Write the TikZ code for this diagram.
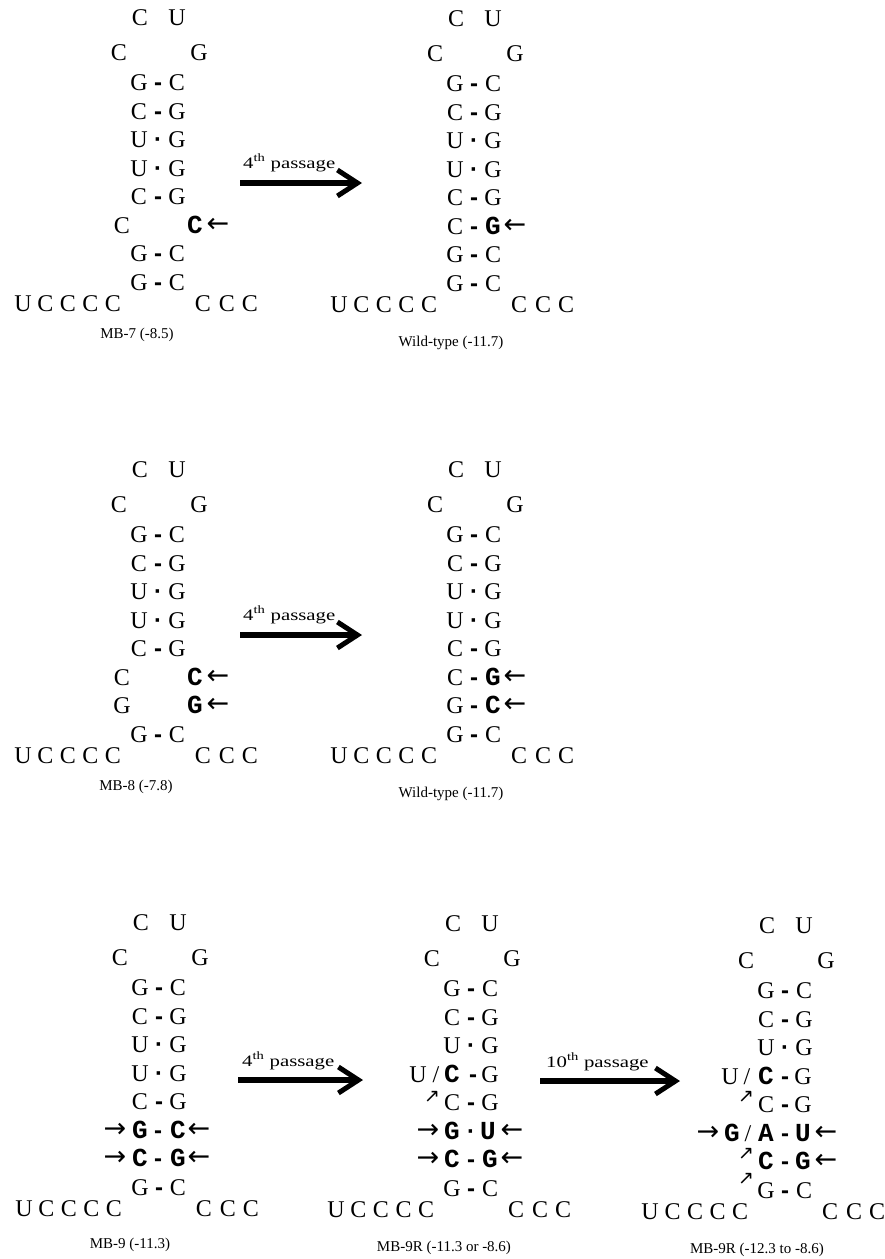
\documentclass[tikz,border=0pt]{standalone}
\usepackage{fontspec}
\setmainfont{Liberation Serif}
\newfontfamily\monofam{Liberation Mono}
\newfontfamily\bondfam{Liberation Sans}
\newfontfamily\symfam{DejaVu Sans}
\newfontfamily\passfam[FakeStretch=1.3]{Liberation Serif}
\usetikzlibrary{arrows.meta}

\newcommand{\bnuc}[1]{{\fontsize{26}{28}\selectfont\monofam\bfseries #1}}
\newcommand{\pbond}{{\bondfam\bfseries -}}
\newcommand{\pwob}{{\bondfam\bfseries ·}}
\newcommand{\slsh}{/}
% one row of bases: name, baseline, list of x/text
\newcommand{\ntrow}[3]{\foreach \px/\ptxt [count=\n] in {#3} \node[nt] (#1-\n) at (\px,#2) {\ptxt};}
% loop, first stem pairs and the two tails
\newcommand{\stemloop}[1]{%
  \node[nt] (#1-l1) at (1,8) {C};
  \node[nt] (#1-l2) at (38,8) {U};
  \node[nt] (#1-l3) at (-20,43) {C};
  \node[nt] (#1-l4) at (60,43) {G};
  \ntrow{#1-r1}{73.5}{0/G,19/\pbond,38/C}
  \ntrow{#1-r2}{102}{0/C,19/\pbond,38/G}
  \ntrow{#1-r3}{130.5}{0/U,19/\pwob,38/G}
  \ntrow{#1-r8}{273}{0/G,19/\pbond,38/C}
  \ntrow{#1-t5}{294}{-116/U,-93.5/C,-71/C,-48.5/C,-26/C}
  \ntrow{#1-t3}{294}{64/C,88/C,111/C}
}

\begin{document}
\begin{tikzpicture}[x=1pt, y=-1pt,
  nt/.style={anchor=base, inner sep=0pt, font=\fontsize{24}{28}\selectfont},
  sarr/.style={anchor=center, inner sep=0pt, font=\fontsize{27}{30}\selectfont\symfam},
  darr/.style={anchor=center, inner sep=0pt, font=\fontsize{19}{22}\selectfont\symfam},
  lbl/.style={anchor=center, inner sep=0pt, font=\fontsize{15}{18}\selectfont},
  plbl/.style={anchor=base west, inner sep=0pt, font=\fontsize{16}{19}\selectfont\passfam},
  passarr/.style={line width=5.5pt, -{Straight Barb[length=20pt,width=26pt,line width=5pt]}}]
  \useasboundingbox (0,0) rectangle (884,1259);

  % MB-7
  \begin{scope}[shift={(139,17)}]
    \stemloop{mb7}
    \ntrow{mb7-r4}{159}{0/U,19/\pwob,38/G}
    \ntrow{mb7-r5}{187.5}{0/C,19/\pbond,38/G}
    \ntrow{mb7-r6}{216}{-17/C,56/\bnuc{C}}
    \node[sarr] (mb7-a6) at (79,208) {←};
    \ntrow{mb7-r7}{244.5}{0/G,19/\pbond,38/C}
    \node[lbl] (mb7-name) at (-2,318) {MB-7 (-8.5)};
  \end{scope}

  % wild type, first row
  \begin{scope}[shift={(455,18)}]
    \stemloop{wta}
    \ntrow{wta-r4}{159}{0/U,19/\pwob,38/G}
    \ntrow{wta-r5}{187.5}{0/C,19/\pbond,38/G}
    \ntrow{wta-r6}{216}{0/C,19/\pbond,38/\bnuc{G}}
    \node[sarr] (wta-a6) at (60,208) {←};
    \ntrow{wta-r7}{244.5}{0/G,19/\pbond,38/C}
    \node[lbl] (wta-name) at (-4,325) {Wild-type (-11.7)};
  \end{scope}

  % MB-8
  \begin{scope}[shift={(139,469)}]
    \stemloop{mb8}
    \ntrow{mb8-r4}{159}{0/U,19/\pwob,38/G}
    \ntrow{mb8-r5}{187.5}{0/C,19/\pbond,38/G}
    \ntrow{mb8-r6}{216}{-17/C,56/\bnuc{C}}
    \node[sarr] (mb8-a6) at (79,208) {←};
    \ntrow{mb8-r7}{244.5}{-17/G,56/\bnuc{G}}
    \node[sarr] (mb8-a7) at (79,236.5) {←};
    \node[lbl] (mb8-name) at (-3,318) {MB-8 (-7.8)};
  \end{scope}

  % wild type, second row
  \begin{scope}[shift={(455,469)}]
    \stemloop{wtb}
    \ntrow{wtb-r4}{159}{0/U,19/\pwob,38/G}
    \ntrow{wtb-r5}{187.5}{0/C,19/\pbond,38/G}
    \ntrow{wtb-r6}{216}{0/C,19/\pbond,38/\bnuc{G}}
    \node[sarr] (wtb-a6) at (60,208) {←};
    \ntrow{wtb-r7}{244.5}{0/G,19/\pbond,38/\bnuc{C}}
    \node[sarr] (wtb-a7) at (60,236.5) {←};
    \node[lbl] (wtb-name) at (-4,325) {Wild-type (-11.7)};
  \end{scope}

  % MB-9
  \begin{scope}[shift={(140,922)}]
    \stemloop{mb9}
    \ntrow{mb9-r4}{159}{0/U,19/\pwob,38/G}
    \ntrow{mb9-r5}{187.5}{0/C,19/\pbond,38/G}
    \ntrow{mb9-r6}{216}{0/\bnuc{G},18/\pbond,38/\bnuc{C}}
    \node[sarr] (mb9-b6) at (-25,208) {→};
    \node[sarr] (mb9-a6) at (59,208) {←};
    \ntrow{mb9-r7}{244.5}{0/\bnuc{C},18/\pbond,38/\bnuc{G}}
    \node[sarr] (mb9-b7) at (-25,236.5) {→};
    \node[sarr] (mb9-a7) at (59,236.5) {←};
    \node[lbl] (mb9-name) at (-10,323) {MB-9 (-11.3)};
  \end{scope}

  % MB-9R after 4th passage
  \begin{scope}[shift={(452,923)}]
    \stemloop{mbr}
    \ntrow{mbr-r4}{159}{-34/U,-16/\slsh,0/\bnuc{C},21/\pbond,38/G}
    \node[darr] (mbr-d4) at (-20,174) {↗};
    \ntrow{mbr-r5}{187.5}{0/C,19/\pbond,38/G}
    \ntrow{mbr-r6}{216}{0/\bnuc{G},19/\pwob,36/\bnuc{U}}
    \node[sarr] (mbr-b6) at (-24,208) {→};
    \node[sarr] (mbr-a6) at (60,208) {←};
    \ntrow{mbr-r7}{244.5}{0/\bnuc{C},19/\pbond,38/\bnuc{G}}
    \node[sarr] (mbr-b7) at (-24,236.5) {→};
    \node[sarr] (mbr-a7) at (60,236.5) {←};
    \node[lbl] (mbr-name) at (-8,325) {MB-9R (-11.3 or -8.6)};
  \end{scope}

  % MB-9R after 10th passage
  \begin{scope}[shift={(766,925)}]
    \stemloop{mbt}
    \ntrow{mbt-r4}{159}{-36/U,-19/\slsh,0/\bnuc{C},19/\pbond,37/G}
    \node[darr] (mbt-d4) at (-20,172) {↗};
    \ntrow{mbt-r5}{187.5}{0/C,19/\pbond,37/G}
    \ntrow{mbt-r6}{216}{-34/\bnuc{G},-18/\slsh,0/\bnuc{A},19/\pbond,37/\bnuc{U}}
    \node[sarr] (mbt-b6) at (-58,208) {→};
    \node[sarr] (mbt-a6) at (60,208) {←};
    \node[darr] (mbt-d6) at (-20,229) {↗};
    \ntrow{mbt-r7}{244.5}{0/\bnuc{C},19/\pbond,37/\bnuc{G}}
    \node[sarr] (mbt-a7) at (60,236.5) {←};
    \node[darr] (mbt-d7) at (-20,254) {↗};
    \node[lbl] (mbt-name) at (-9,325) {MB-9R (-12.3 to -8.6)};
  \end{scope}

  % passage arrows
  \coordinate (p1s) at (240,183);
  \coordinate (p1e) at (362,183);
  \draw[passarr] (p1s) -- (p1e);
  \node[plbl] (p1t) at (243,168) {4\textsuperscript{th} passage};
  \coordinate (p2s) at (240,635);
  \coordinate (p2e) at (362,635);
  \draw[passarr] (p2s) -- (p2e);
  \node[plbl] (p2t) at (243,620) {4\textsuperscript{th} passage};
  \coordinate (p3s) at (238,1080);
  \coordinate (p3e) at (363,1080);
  \draw[passarr] (p3s) -- (p3e);
  \node[plbl] (p3t) at (242,1066) {4\textsuperscript{th} passage};
  \coordinate (p4s) at (540,1081);
  \coordinate (p4e) at (680,1081);
  \draw[passarr] (p4s) -- (p4e);
  \node[plbl] (p4t) at (546,1067) {10\textsuperscript{th} passage};
\end{tikzpicture}
\end{document}
